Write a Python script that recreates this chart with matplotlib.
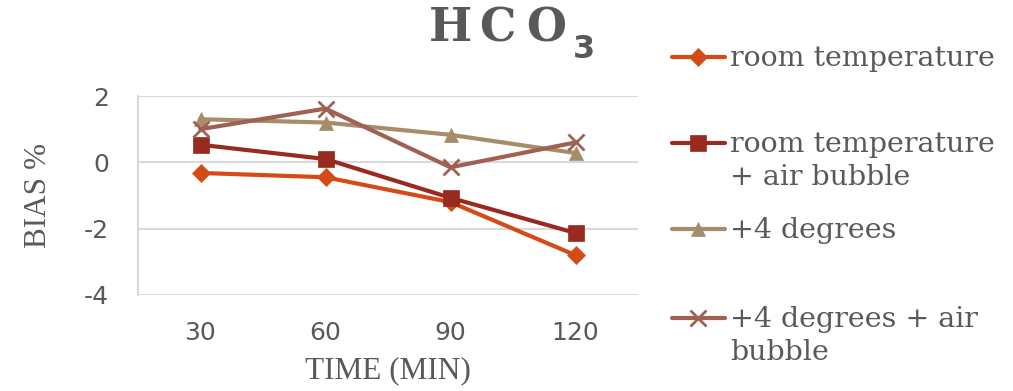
import matplotlib
matplotlib.use("Agg")
import matplotlib.pyplot as plt
from matplotlib.lines import Line2D

categories = ["30", "60", "90", "120"]
room_temp = [-0.32, -0.45, -1.2, -2.8]
room_temp_air = [0.53, 0.1, -1.07, -2.13]
plus4 = [1.3, 1.2, 0.83, 0.28]
plus4_air = [1.0, 1.62, -0.15, 0.6]
series_names = ["room temperature", "room temperature\n+ air bubble", "+4 degrees",
                "+4 degrees + air\nbubble"]
yticks = [-4, -2, 0, 2]

colors = ["#D44B17", "#992A1F", "#A68C69", "#9E6152"]
markers = ["D", "s", "^", "x"]
msizes = [9, 11, 10, 11]
text_col = "#595959"

fig = plt.figure(figsize=(10.13, 3.91), dpi=100)
ax = fig.add_axes([138/1013, 1-295/391, 500/1013, 199/391])

x = list(range(len(categories)))
data = [room_temp, room_temp_air, plus4, plus4_air]
for vals, c, m, ms in zip(data, colors, markers, msizes):
    ax.plot(x, vals, color=c, lw=3, marker=m, markersize=ms,
            markeredgewidth=2 if m == "x" else 0.5, markeredgecolor=c, markerfacecolor=c)

ax.set_xlim(-0.5, len(categories) - 0.5)
ax.set_ylim(-4, 2)
ax.set_yticks(yticks)
ax.set_yticklabels([str(v) for v in yticks], fontsize=18, color=text_col, family="DejaVu Sans")
ax.set_xticks(x)
ax.set_xticklabels(categories, fontsize=18, color=text_col, family="DejaVu Sans")
ax.tick_params(length=0)
ax.tick_params(axis="y", pad=21)
ax.tick_params(axis="x", pad=19)
ax.grid(axis="y", color="#D9D9D9", lw=1.5)
ax.set_axisbelow(True)
for s in ["top", "right", "bottom"]:
    ax.spines[s].set_visible(False)
ax.spines["left"].set_color("#D9D9D9")
ax.spines["left"].set_linewidth(1.5)

ax.set_xlabel("TIME (MIN)", fontsize=22.5, color=text_col, family="Liberation Serif", labelpad=8)
ax.set_ylabel("BIAS %", fontsize=22.5, color=text_col, family="Liberation Serif", labelpad=22)

# title, letter-spaced
for ch, xc in zip("HCO", [450, 497, 546]):
    fig.text(xc/1013, 1-28/391, ch, fontsize=33, fontweight="bold", family="DejaVu Serif",
             color=text_col, ha="center", va="center")
fig.text(584/1013, 1-49/391, "3", fontsize=23, fontweight="bold", family="DejaVu Sans",
         color=text_col, ha="center", va="center")

# legend
leg_y = [57, 143, 229, 318]
for name, c, m, ms, yy in zip(series_names, colors, markers, msizes, leg_y):
    yf = 1 - yy/391
    fig.add_artist(Line2D([672/1013, 725/1013], [yf, yf], transform=fig.transFigure,
                          color=c, lw=3, solid_capstyle="round"))
    fig.add_artist(Line2D([698/1013], [yf], transform=fig.transFigure, color=c,
                          marker=m, markersize=ms, markeredgecolor=c, markerfacecolor=c,
                          markeredgewidth=2 if m == "x" else 0.5, linestyle="none"))
    fig.text(730/1013, yf + 12/391, name, fontsize=20.5, family="DejaVu Serif", color=text_col,
             ha="left", va="top", linespacing=1.3)

fig.savefig("out.png", dpi=100)
